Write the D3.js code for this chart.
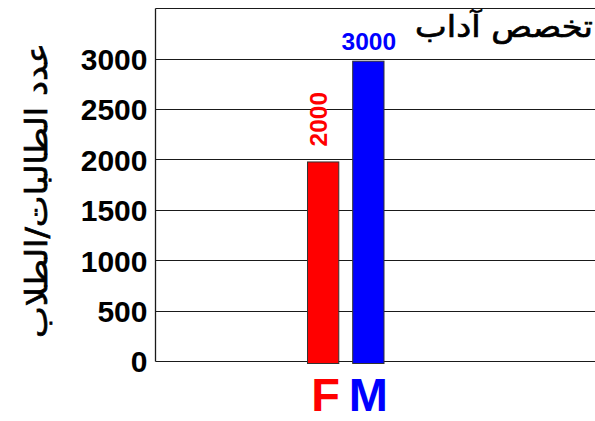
<!DOCTYPE html>
<html><head><meta charset="utf-8">
<script src="https://cdn.jsdelivr.net/npm/d3@7/dist/d3.min.js"></script>
<style>body{margin:0;background:#fff}svg{display:block}</style>
</head><body><svg id="c" width="595" height="421"></svg>
<script>
const categories = ["F", "M"];
const values = [2000, 3000];
const barColors = ["#ff0000", "#0000ff"];
const valueLabels = ["2000", "3000"];
const tickValues = [0, 500, 1000, 1500, 2000, 2500, 3000];
const gridValues = [0, 500, 1000, 1500, 2000, 2500, 3000, 3500];
const yMax = 3500;
const chartTitle = "تخصص آداب";
const yTitle = "عدد الطالبات/الطلاب";

const svg = d3.select("#c");
const plotLeft = 155.5, plotRight = 600, plotTop = 8.3, plotBottom = 361;
const y = d3.scaleLinear().domain([0, yMax]).range([plotBottom, plotTop]);
const x = d3.scaleBand().domain(categories).range([307.5, 384]).paddingInner(0.3075).paddingOuter(0);
const bw = x.bandwidth();
const latin = "'Liberation Sans', Arial, Helvetica, sans-serif";
const arabic = "'DejaVu Sans', sans-serif";

// gridlines
svg.append("g").selectAll("line").data(gridValues).join("line")
  .attr("x1", plotLeft).attr("x2", plotRight)
  .attr("y1", d => Math.round(y(d)) + 0.5).attr("y2", d => Math.round(y(d)) + 0.5)
  .attr("stroke", "#1a1a1a").attr("stroke-width", 1.2);

// y axis line
svg.append("line").attr("x1", plotLeft).attr("x2", plotLeft)
  .attr("y1", Math.round(y(yMax)) + 0.5).attr("y2", Math.round(y(0)) + 0.5)
  .attr("stroke", "#1a1a1a").attr("stroke-width", 1.3);

// tick labels via axis
const ax = svg.append("g").attr("transform", `translate(${plotLeft},0)`)
  .call(d3.axisLeft(y).tickValues(tickValues).tickSize(0).tickPadding(8).tickFormat(d3.format("d")));
ax.select(".domain").remove();
ax.selectAll("text").attr("font-family", latin).attr("font-weight", "bold")
  .attr("font-size", 30).attr("fill", "#000").attr("dy", "0.36em");

// bars
svg.append("g").selectAll("rect").data(values).join("rect")
  .attr("x", (d, i) => x(categories[i]))
  .attr("y", d => y(d) + 2.5)
  .attr("width", bw)
  .attr("height", d => y(0) - y(d))
  .attr("fill", (d, i) => barColors[i])
  .attr("stroke", "#333").attr("stroke-width", 1);

// value labels
values.forEach((v, i) => {
  const cx = x(categories[i]) + bw / 2;
  const t = svg.append("text").text(valueLabels[i])
    .attr("font-family", latin).attr("font-weight", "bold").attr("font-size", 24.5)
    .attr("fill", barColors[i]);
  if (i === 0) {
    t.attr("transform", `translate(${cx + 3.5},${y(v) - 13}) rotate(-90)`).attr("text-anchor", "start");
  } else {
    t.attr("x", cx + 0.5).attr("y", y(v) - 8.7).attr("text-anchor", "middle");
  }
});

// category labels
svg.append("g").selectAll("text").data(categories).join("text")
  .text(d => d)
  .attr("x", (d, i) => x(d) + bw / 2 + (i === 0 ? 2.5 : 0))
  .attr("y", 411)
  .attr("text-anchor", "middle")
  .attr("font-family", latin).attr("font-weight", "bold").attr("font-size", 47)
  .attr("fill", (d, i) => barColors[i]);

// chart title
svg.append("text").text(chartTitle)
  .attr("x", 593).attr("y", 37).attr("text-anchor", "end")
  .attr("font-family", arabic).attr("font-size", 30).attr("fill", "#000")
  .attr("stroke", "#000").attr("stroke-width", 0.7)
  .attr("textLength", 178).attr("lengthAdjust", "spacingAndGlyphs");

// y axis title
svg.append("text").text(yTitle)
  .attr("transform", "translate(47,190.5) rotate(-90)")
  .attr("text-anchor", "middle")
  .attr("font-family", arabic).attr("font-size", 30).attr("fill", "#000")
  .attr("stroke", "#000").attr("stroke-width", 0.7)
  .attr("textLength", 295).attr("lengthAdjust", "spacingAndGlyphs");
</script></body></html>
